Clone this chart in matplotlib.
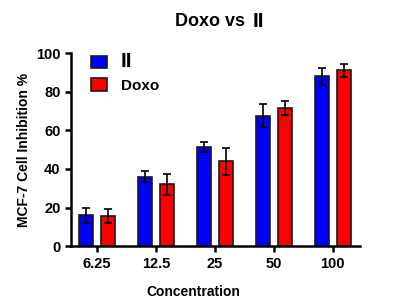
import matplotlib
matplotlib.use("Agg")
import matplotlib.pyplot as plt
import numpy as np

plt.rcParams['font.family'] = ['Liberation Sans', 'DejaVu Sans']
plt.rcParams['font.weight'] = 'bold'

concentrations = ['6.25', '12.5', '25', '50', '100']
ii_values = [16, 36, 51.5, 67.5, 88]
ii_err = [4, 3, 2.5, 6, 4.5]
doxo_values = [15.5, 32, 44, 71.5, 91]
doxo_err = [3.5, 5.5, 7, 3.5, 3.5]

fig = plt.figure(figsize=(4, 3.05), dpi=100)
ax = fig.add_axes([0.1775, 0.193, 0.7225, 0.633])

x = np.arange(len(concentrations))
w = 0.24
off = 0.19
ax.bar(x - off, ii_values, w, yerr=ii_err, color='#0000ff', edgecolor='#1a1a1a',
       linewidth=1.2, capsize=3, error_kw=dict(elinewidth=1.2, capthick=1.2), label='II')
ax.bar(x + off, doxo_values, w, yerr=doxo_err, color='#ff0000', edgecolor='#1a1a1a',
       linewidth=1.2, capsize=3, error_kw=dict(elinewidth=1.2, capthick=1.2), label='Doxo')

ax.set_xlim(-0.44, 4.46)
ax.set_ylim(0, 100)
ax.set_yticks([0, 20, 40, 60, 80, 100])
ax.set_xticks(x)
ax.set_xticklabels(concentrations)
ax.tick_params(labelsize=10.5, width=1.8, length=4, direction='out')
for s in ['top', 'right']:
    ax.spines[s].set_visible(False)
for s in ['left', 'bottom']:
    ax.spines[s].set_linewidth(1.8)

fig.text(193 / 400, 1 - 292 / 305, 'Concentration', fontsize=10, fontweight='bold',
         ha='center', va='center')
ax.set_ylabel('MCF-7 Cell Inhibition %', fontsize=10, fontweight='bold')
fig.text(0.6125, 0.928, 'Doxo vs', fontsize=13, fontweight='bold', ha='right', va='center')
fig.text(0.632, 0.928, 'II', fontsize=15, fontweight='bold', ha='left', va='center')

leg = ax.legend(loc='upper left', bbox_to_anchor=(0.02, 1.075), frameon=False,
                fontsize=11, handlelength=1.1, handleheight=0.9, handletextpad=0.9,
                labelspacing=0.45)
plt.setp(leg.get_texts()[0], fontsize=15)

fig.savefig('out.png', dpi=100)
